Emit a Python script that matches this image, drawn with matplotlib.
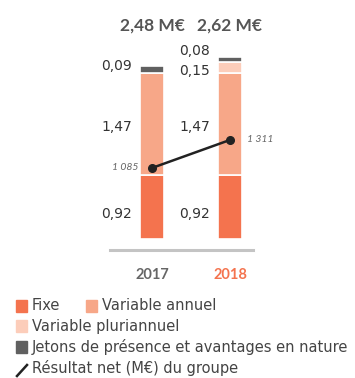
import matplotlib
matplotlib.use("Agg")
import matplotlib.pyplot as plt
from matplotlib.patches import Rectangle
from matplotlib.lines import Line2D

plt.rcParams['font.family'] = ['Lato', 'DejaVu Sans']
BODY = ['DejaVu Sans']

years = ["2017", "2018"]
fixe = [0.92, 0.92]
variable_annuel = [1.47, 1.47]
variable_pluriannuel = [0.0, 0.15]
jetons = [0.09, 0.08]
totals = ["2,48 M€", "2,62 M€"]
resultat_net = [1085, 1311]
resultat_labels = ["1 085", "1 311"]

series = [
    ("Fixe", fixe, "#F4734E"),
    ("Variable annuel", variable_annuel, "#F7A788"),
    ("Variable pluriannuel", variable_pluriannuel, "#FCCDBA"),
    ("Jetons de présence et avantages en nature", jetons, "#606060"),
]

W, H = 355, 378
fig = plt.figure(figsize=(W / 100, H / 100), dpi=100)
ax = fig.add_axes([110 / W, 1 - 250 / H, 143 / W, 230 / H])
ax.set_xlim(-0.538, 1.295)
ax.set_ylim(-0.158, 3.147)
for s in ["top", "right", "left"]:
    ax.spines[s].set_visible(False)
ax.spines["bottom"].set_color("#C4C4C4")
ax.spines["bottom"].set_linewidth(2.2)
ax.set_yticks([])
ax.set_xticks([0, 1])
ax.set_xticklabels(years, fontsize=10.5, fontweight="bold")
ax.tick_params(axis="x", length=0, pad=13)
tl = ax.get_xticklabels()
tl[0].set_color("#666666")
tl[1].set_color("#F4734E")

x = list(range(len(years)))
width = 0.3
bottoms = [0.0] * len(years)
for name, vals, color in series:
    ax.bar(x, vals, width, bottom=bottoms, color=color, edgecolor="white", linewidth=1.2)
    bottoms = [b + v for b, v in zip(bottoms, vals)]

def fmt(v):
    return f"{v:.2f}".replace(".", ",")

label_kw = dict(ha="right", va="center", fontsize=10, color="#333333", family=BODY)
lx = [xi - 0.26 for xi in x]
# Fixe and Variable annuel, at segment middles
for i in x:
    ax.text(lx[i], fixe[i] / 2 - 0.1, fmt(fixe[i]), **label_kw)
    ax.text(lx[i], fixe[i] + variable_annuel[i] / 2 - 0.05, fmt(variable_annuel[i]), **label_kw)
# Small segments on top
top17 = fixe[0] + variable_annuel[0]
ax.text(lx[0], top17 + jetons[0] + 0.0, fmt(jetons[0]), **label_kw)
top18 = fixe[1] + variable_annuel[1]
ax.text(lx[1], top18 + 0.03, fmt(variable_pluriannuel[1]), **label_kw)
ax.text(lx[1], top18 + variable_pluriannuel[1] + jetons[1] + 0.08, fmt(jetons[1]), **label_kw)

for i in x:
    ax.text(i, 3.147 - 0.08, totals[i], ha="center", va="center", fontsize=12.5,
            fontweight="bold", color="#555555")

ax2 = ax.twinx()
ax2.set_ylim(423, 2279)
ax2.axis("off")
ax2.plot(x, resultat_net, color="#222222", lw=1.8, marker="o", markersize=5.5, zorder=5)
ax2.text(x[0] - 0.17, resultat_net[0], resultat_labels[0], ha="right", va="center",
         fontsize=7.5, style="italic", color="#666666")
ax2.text(x[1] + 0.22, resultat_net[1], resultat_labels[1], ha="left", va="center",
         fontsize=7.5, style="italic", color="#666666")

# Legend drawn row by row
def patch(px, py, color):
    fig.patches.append(Rectangle((px / W, 1 - (py + 6) / H), 11 / W, 12 / H,
                                 transform=fig.transFigure, color=color))

def label(px, py, text):
    fig.text(px / W, 1 - py / H, text, ha="left", va="center", fontsize=10.5,
             color="#444444", family=BODY)

rows = [(16, 306, 0), (86, 306, 1), (16, 326, 2), (16, 347, 3)]
for px, py, k in rows:
    patch(px, py, series[k][2])
    label(px + 16, py, series[k][0])
fig.lines.append(Line2D([17 / W, 27 / W], [1 - 376 / H, 1 - 365 / H], transform=fig.transFigure,
                        color="#222222", lw=1.8))
label(32, 368, "Résultat net (M€) du groupe")

fig.savefig("out.png", dpi=100)
